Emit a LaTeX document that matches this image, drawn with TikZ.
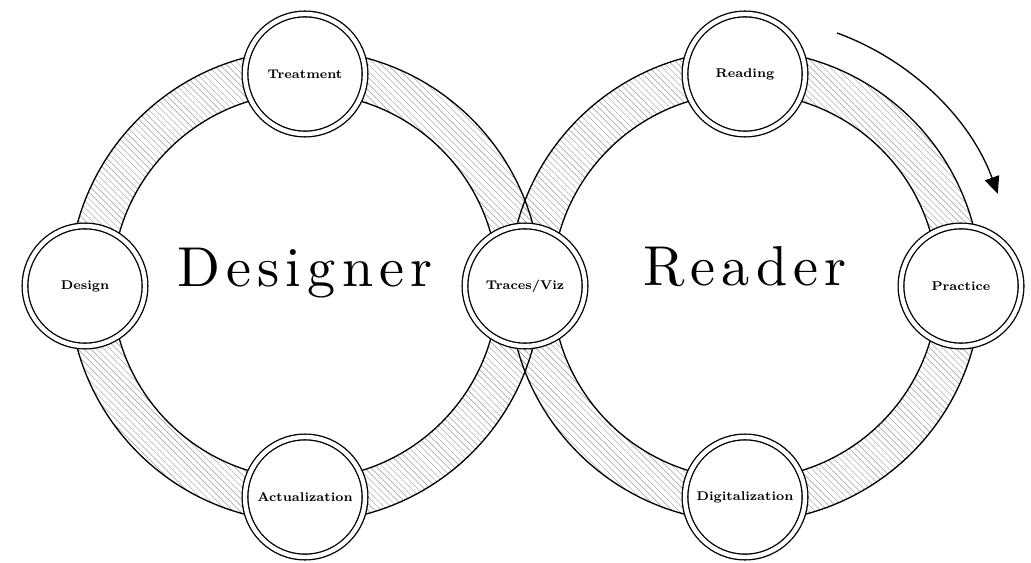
\documentclass[tikz,border=0pt]{standalone}
\usepackage{fontspec}
\newfontfamily\widefont{lmroman10-regular}[Extension=.otf, LetterSpace=11]
\usetikzlibrary{patterns.meta,arrows.meta}

\begin{document}
\begin{tikzpicture}[x=0.2mm, y=0.2mm,
  stage/.style={circle, draw, double, line width=0.75pt, double distance=2.5pt,
    fill=white, minimum size=24mm, inner sep=0pt,
    font=\fontsize{7.2}{9}\selectfont\bfseries},
  actor/.style={font=\widefont\fontsize{32}{36}\selectfont},
  hatch/.style={pattern={Lines[angle=-45, distance=2.6pt, line width=0.25pt]},
    pattern color=black!40, even odd rule},
  rim/.style={line width=0.75pt}]
\useasboundingbox (0,0) rectangle (1031,562);
% hatched bands FIRST (so they stay behind)
\fill[hatch] (305,276) circle[radius=236] circle[radius=193];
\fill[hatch] (745,276) circle[radius=236] circle[radius=193];
\draw[rim] (305,276) circle[radius=236] circle[radius=193];
\draw[rim] (745,276) circle[radius=236] circle[radius=193];

% left loop
\node (treat)[stage] at (305,488) {Treatment};
\node (design)[stage] at (85,276) {Design};
\node (actual)[stage] at (305,65) {Actualization};
\node (traces)[stage] at (525,276) {Traces/Viz};
% right loop
\node (read)[stage] at (745,488) {Reading};
\node (pract)[stage] at (961,276) {Practice};
\node (digit)[stage] at (745,65) {Digitalization};

\node (designer)[actor, anchor=base] at (305,276) {Designer};
\node (reader)[actor, anchor=base] at (745,277) {Reader};

% turning direction
\coordinate (turn) at (837,529);
\draw[rim, -{Triangle[length=3.4mm, width=3mm]}] (turn) arc[start angle=70, end angle=20, radius=269];
\end{tikzpicture}
\end{document}
